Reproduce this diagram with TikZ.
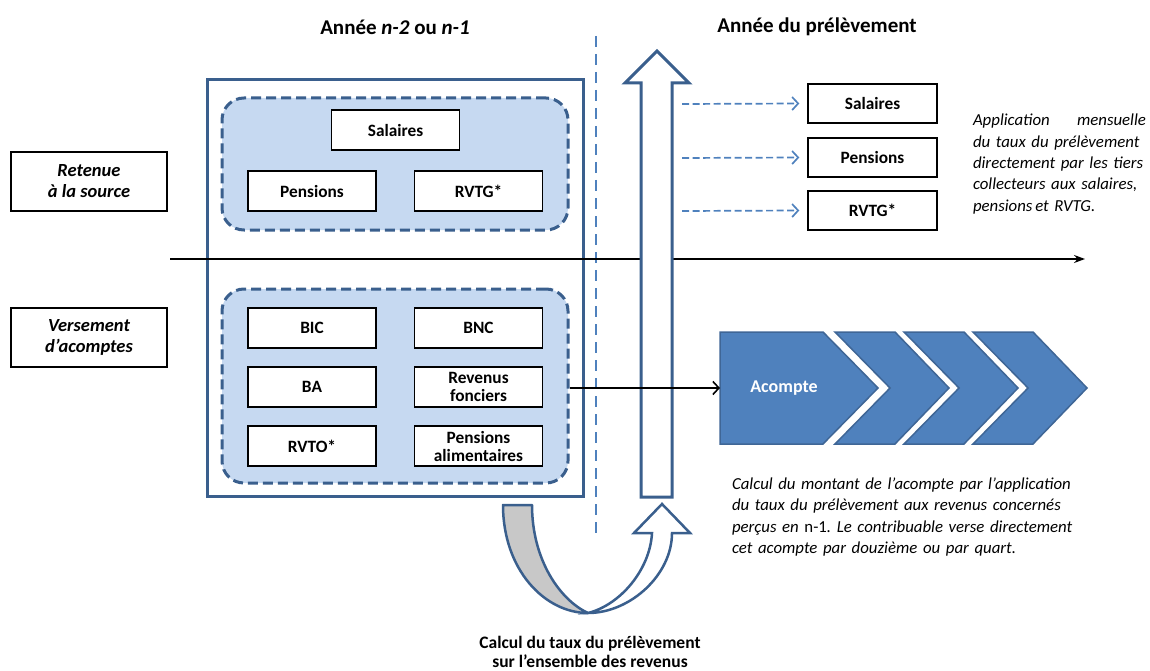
\documentclass[tikz,border=0pt]{standalone}
\usepackage{fontspec}
\setmainfont{Carlito}
\usetikzlibrary{arrows.meta}
\definecolor{frame}{HTML}{3A5F8D}
\definecolor{mid}{HTML}{4F81BD}
\definecolor{pale}{HTML}{C6D9F1}
\definecolor{chevedge}{HTML}{3F6696}
\definecolor{uback}{HTML}{C8C8C8}

% one justified line of a note, stretched to the full text width
\newcommand\fullline[1]{\hbox to \hsize{#1}}
\newcommand\lastline[1]{\hbox{#1}}

\tikzset{
  item/.style={draw=black, line width=1.4pt, fill=white, minimum width=128pt,
    minimum height=40pt, inner sep=0pt, align=center,
    font=\fontsize{17.3}{18}\selectfont\bfseries},
  group/.style={draw=frame, line width=3pt, dash pattern=on 10pt off 5pt,
    fill=pale, rounded corners=22pt, inner sep=0pt},
  sidelabel/.style={draw=black, line width=1.4pt, minimum width=156pt,
    minimum height=59pt, inner sep=0pt, align=center,
    font=\fontsize{18.5}{21}\selectfont\bfseries\itshape},
  heading/.style={font=\fontsize{21}{24}\selectfont\bfseries},
  note/.style={font=\fontsize{16.8}{21.3}\selectfont\itshape\frenchspacing, inner sep=0pt},
  feed/.style={mid, line width=1.7pt, dash pattern=on 7pt off 3.5pt,
    -{Straight Barb[length=6pt,width=13pt,line width=1.7pt]}},
  chev/.style={fill=mid, draw=chevedge, line width=1.5pt, line join=miter},
}

\begin{document}
\begin{tikzpicture}[x=1pt,y=-1pt]
\useasboundingbox (0,0) rectangle (1150,671);

% headings
\node[heading] (hleft) at (395,27) {Année \textit{n-2} ou \textit{n-1}};
\node[heading] (hright) at (817,27) {Année du prélèvement};

% year separator
\draw[mid, line width=2pt, dash pattern=on 11pt off 7pt] (596,36) -- (596,535);

% period frame
\node[draw=frame, line width=3pt, minimum width=376pt, minimum height=416pt,
  inner sep=0pt] (period) at (395,288) {};

% withheld incomes
\node[group, minimum width=346pt, minimum height=132pt] (topgrp) at (395,164) {};
\node[item] (sal) at (395.5,130) {Salaires};
\node[item] (pen) at (312,191) {Pensions};
\node[item] (rvtg) at (478.5,191) {RVTG*};

% incomes paid by instalments
\node[group, minimum width=346pt, minimum height=194pt] (botgrp) at (395,386) {};
\node[item] (bic) at (312,328) {BIC};
\node[item] (bnc) at (478.5,328) {BNC};
\node[item] (ba) at (312,387) {BA};
\node[item] (rf) at (478.5,387) {Revenus\\fonciers};
\node[item] (rvto) at (312,446) {RVTO*};
\node[item] (pa) at (478.5,446) {Pensions\\alimentaires};

% side labels
\node[sidelabel] (ret) at (89,181.5) {Retenue\\à la source};
\node[sidelabel] (ver) at (89,337.5) {Versement\\d’acomptes};

% time line
\coordinate (tl) at (170,259);
\coordinate (tr) at (1085,259);
\draw[line width=1.6pt, -{Stealth[length=11pt,width=8pt]}] (tl) -- (tr);

% upward arrow
\draw[frame, line width=3pt, fill=white, line join=miter]
  (641,497) -- (641,83) -- (625,83) -- (657,51) -- (689,83) -- (672,83)
  -- (672,497) -- cycle;

% U-turn arrow under the frame
\draw[frame, line width=2.5pt, fill=uback, line join=round]
  (503,505) .. controls (503,570) and (545,613) .. (588,613)
  .. controls (560,600) and (532,560) .. (532,505) -- cycle;
\draw[frame, line width=2.5pt, fill=white, line join=miter]
  (588,613) .. controls (630,613) and (672,575) .. (672,533)
  -- (690,533) -- (662,504) -- (634,533) -- (652,533)
  .. controls (650,570) and (620,605) .. (588,613) -- cycle;

% withheld incomes in the current year
\node[item, minimum width=129pt, minimum height=39pt] (sal2) at (872.5,103.5) {Salaires};
\node[item, minimum width=129pt, minimum height=39pt] (pen2) at (872.5,157.5) {Pensions};
\node[item, minimum width=129pt, minimum height=39pt] (rvtg2) at (872.5,210.5) {RVTG*};
\coordinate (f1) at (682,104);
\coordinate (f2) at (682,158);
\coordinate (f3) at (682,211);
\draw[feed] (f1) -- ([xshift=-8pt]sal2.west);
\draw[feed] (f2) -- ([xshift=-8pt]pen2.west);
\draw[feed] (f3) -- ([xshift=-8pt]rvtg2.west);

% instalments
\draw[chev] (720,332) -- (823,332) -- (878,388) -- (823,444) -- (720,444) -- cycle;
\foreach \x in {835,904,973}{
  \draw[chev] (\x,332) -- (\x+60,332) -- (\x+114,388) -- (\x+60,444)
    -- (\x,444) -- (\x+55,388) -- cycle;
}
\node[font=\fontsize{18}{20}\selectfont\bfseries, text=white] (acompte) at (784,388) {Acompte};
\coordinate (chevin) at (720,388);
\draw[line width=1.6pt, -{Straight Barb[length=6pt,width=13pt,line width=1.6pt]}]
  (botgrp.east |- chevin) -- (chevin);

% explanatory notes
\node[note, text width=173pt] (n1) at (1059.5,164)
  {\vbox{\fullline{Application\hfil mensuelle}%
   \fullline{du taux du prélèvement}%
   \fullline{directement par les tiers}%
   \fullline{collecteurs aux salaires,}%
   \lastline{pensions\,et RVTG.}}};
\node[note, text width=341pt] (n2) at (902.5,517)
  {\vbox{\fullline{Calcul du montant de l’acompte par l’application}%
   \fullline{du taux du prélèvement aux revenus concernés}%
   \fullline{perçus en {\upshape n-1}. Le contribuable verse directement}%
   \lastline{cet acompte par douzième ou par quart.}}};

\node[font=\fontsize{17.5}{18.5}\selectfont\bfseries, align=center] (calc) at (590,652)
  {Calcul du taux du prélèvement\\sur l’ensemble des revenus};
\end{tikzpicture}
\end{document}
